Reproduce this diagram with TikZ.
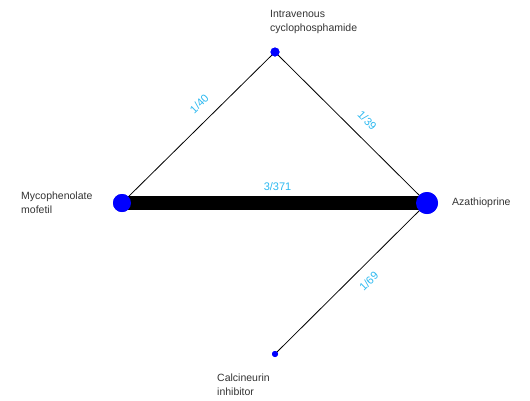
\documentclass[tikz,border=0pt]{standalone}
\usepackage{fontspec}
\setmainfont{Liberation Sans}
\usetikzlibrary{positioning}
\definecolor{cmpblue}{RGB}{45,185,240}
\tikzset{
  trt/.style={circle,fill=blue,inner sep=0pt},
  tname/.style={align=left,inner sep=0pt,text=black!80,font=\fontsize{10.5}{14}\selectfont},
  cmp/.style={sloped,inner sep=1pt,text=cmpblue,font=\fontsize{11}{12}\selectfont}
}

\begin{document}
\begin{tikzpicture}[x=1pt,y=-1pt]
  \useasboundingbox (0,0) rectangle (530,400);
  % treatments
  \node[trt,minimum size=9pt]  (ivc) at (275,52)  {};
  \node[trt,minimum size=18pt] (mmf) at (122,203) {};
  \node[trt,minimum size=22pt] (aza) at (427,203) {};
  \node[trt,minimum size=6pt]  (cni) at (275,354) {};
  % comparisons
  \draw[line width=0.8pt] (mmf.center) -- (ivc.center) node[cmp,pos=0.58,above=11pt]{1/40};
  \draw[line width=0.8pt] (ivc.center) -- (aza.center) node[cmp,pos=0.53,above=11pt]{1/39};
  \draw[line width=0.8pt] (cni.center) -- (aza.center) node[cmp,pos=0.55,below=9pt]{1/69};
  \draw[line width=14pt] (mmf.center) -- (aza.center) node[cmp,pos=0.51,above=4pt]{3/371};
  % redraw dots on top
  \node[trt,minimum size=9pt]  at (ivc) {};
  \node[trt,minimum size=18pt] at (mmf) {};
  \node[trt,minimum size=22pt] at (aza) {};
  \node[trt,minimum size=6pt]  at (cni) {};
  % labels
  \node[tname,anchor=west] (ivclab) at (270,22)  {Intravenous\\cyclophosphamide};
  \node[tname,anchor=west] (mmflab) at (21,203)  {Mycophenolate\\mofetil};
  \node[tname,anchor=west] (azalab) at (452,203) {Azathioprine};
  \node[tname,anchor=west] (cnilab) at (217,385) {Calcineurin\\inhibitor};
\end{tikzpicture}
\end{document}
